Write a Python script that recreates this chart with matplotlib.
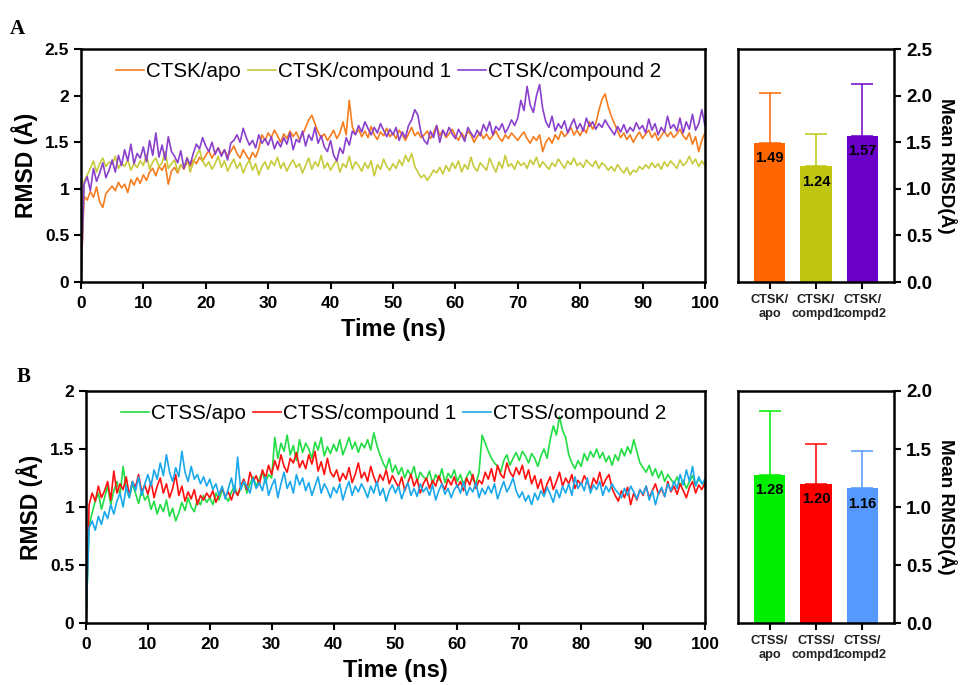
import numpy as np
import matplotlib.pyplot as plt

plt.rcParams['font.family'] = ['Liberation Sans', 'DejaVu Sans']

# RMSD traces, sampled every 0.5 ns from 0 to 100 ns
time_ns = np.arange(0, 100.5, 0.5)

ctsk_apo = [
    0.00, 0.92, 0.88, 0.97, 0.91, 1.02, 0.86, 0.80, 0.95, 0.99,
    1.03, 0.98, 1.07, 1.01, 1.05, 0.96, 1.10, 1.04, 1.12, 1.06,
    1.15, 1.09, 1.18, 1.22, 1.14, 1.24, 1.20, 1.27, 1.05, 1.19,
    1.23, 1.17, 1.26, 1.21, 1.29, 1.24, 1.31, 1.27, 1.34, 1.30,
    1.36, 1.41, 1.33, 1.39, 1.44, 1.37, 1.42, 1.35, 1.40, 1.46,
    1.38, 1.33, 1.42, 1.36, 1.31, 1.39, 1.34, 1.43, 1.58, 1.52,
    1.60, 1.55, 1.63, 1.57, 1.50, 1.59, 1.54, 1.62, 1.56, 1.61,
    1.53, 1.58, 1.66, 1.74, 1.79, 1.70, 1.61, 1.55, 1.59, 1.52,
    1.57, 1.63, 1.54, 1.60, 1.72, 1.58, 1.95, 1.66, 1.59, 1.64,
    1.56, 1.62, 1.55, 1.67, 1.58, 1.53, 1.61, 1.57, 1.65, 1.56,
    1.60, 1.54, 1.63, 1.58, 1.52, 1.59, 1.66, 1.57, 1.61, 1.55,
    1.58, 1.62, 1.54, 1.60, 1.68, 1.57, 1.63, 1.55, 1.59, 1.64,
    1.57, 1.52, 1.60, 1.55, 1.62, 1.58, 1.50, 1.56, 1.61, 1.54,
    1.59, 1.53, 1.57, 1.62, 1.55, 1.51, 1.58, 1.54, 1.60, 1.56,
    1.52, 1.57, 1.61, 1.54, 1.49, 1.56, 1.52, 1.58, 1.40, 1.50,
    1.55, 1.49, 1.58, 1.53, 1.62, 1.56, 1.60, 1.66, 1.58, 1.63,
    1.57, 1.65, 1.60, 1.72, 1.64, 1.70, 1.84, 1.96, 2.02, 1.88,
    1.78, 1.70, 1.62, 1.55, 1.60, 1.53, 1.58, 1.50, 1.56, 1.61,
    1.54, 1.59, 1.63, 1.55, 1.60, 1.52, 1.57, 1.62, 1.56, 1.61,
    1.55, 1.59, 1.64, 1.57, 1.53, 1.60, 1.48, 1.56, 1.40, 1.52,
    1.60]

ctsk_cpd1 = [
    0.00, 1.08, 1.15, 1.22, 1.30, 1.18, 1.27, 1.33, 1.24, 1.29,
    1.26, 1.35, 1.22, 1.28, 1.24, 1.31, 1.20, 1.27, 1.23, 1.30,
    1.25, 1.37, 1.21, 1.29, 1.33, 1.24, 1.28, 1.40, 1.22, 1.27,
    1.31, 1.19, 1.26, 1.22, 1.34, 1.18, 1.28, 1.36, 1.42, 1.30,
    1.24, 1.29, 1.21, 1.27, 1.35, 1.23, 1.30, 1.19, 1.26, 1.32,
    1.22, 1.28, 1.17, 1.25, 1.31, 1.20, 1.27, 1.15, 1.24, 1.29,
    1.21, 1.30, 1.25, 1.34, 1.22, 1.28, 1.19, 1.26, 1.31, 1.23,
    1.27, 1.17, 1.25, 1.33, 1.21, 1.29, 1.24, 1.36, 1.22, 1.28,
    1.20, 1.26, 1.31, 1.18, 1.27, 1.23, 1.35, 1.21, 1.29, 1.25,
    1.19, 1.28, 1.22, 1.30, 1.14, 1.26, 1.21, 1.32, 1.24, 1.20,
    1.27, 1.22, 1.31, 1.25, 1.36, 1.29, 1.38, 1.24, 1.18, 1.12,
    1.15, 1.09, 1.14, 1.20, 1.17, 1.23, 1.16, 1.25, 1.19, 1.28,
    1.22, 1.30, 1.18, 1.26, 1.21, 1.34, 1.23, 1.19, 1.28, 1.24,
    1.20, 1.33, 1.25, 1.18, 1.29, 1.22, 1.36, 1.24, 1.27, 1.21,
    1.30, 1.25, 1.28, 1.22, 1.31, 1.26, 1.34, 1.23, 1.29, 1.25,
    1.21, 1.28, 1.24, 1.32, 1.27, 1.22, 1.30, 1.26, 1.33, 1.25,
    1.28, 1.23, 1.31, 1.27, 1.24, 1.30, 1.22, 1.28, 1.25, 1.20,
    1.24, 1.19, 1.26, 1.21, 1.17, 1.23, 1.15, 1.20, 1.18, 1.24,
    1.21, 1.26, 1.22, 1.28, 1.23, 1.27, 1.21, 1.29, 1.24, 1.30,
    1.26, 1.22, 1.31, 1.25, 1.28, 1.35, 1.27, 1.32, 1.24, 1.30,
    1.25]

ctsk_cpd2 = [
    0.00, 1.05, 1.13, 0.98, 1.22, 1.08, 1.17, 1.28, 1.12, 1.20,
    1.31, 1.18, 1.36, 1.25, 1.42, 1.30, 1.48, 1.27, 1.38, 1.33,
    1.45, 1.29, 1.52, 1.36, 1.60, 1.34, 1.47, 1.31, 1.56, 1.40,
    1.35, 1.28, 1.41, 1.22, 1.33, 1.26, 1.38, 1.48, 1.43, 1.55,
    1.46, 1.40, 1.50, 1.37, 1.44, 1.35, 1.42, 1.31, 1.49, 1.52,
    1.58, 1.50, 1.65, 1.55, 1.47, 1.52, 1.44, 1.58, 1.49, 1.54,
    1.47, 1.56, 1.43, 1.51, 1.45, 1.55, 1.48, 1.60, 1.42, 1.53,
    1.50, 1.62, 1.46, 1.58, 1.52, 1.66, 1.49, 1.57, 1.45, 1.40,
    1.52, 1.36, 1.30, 1.44, 1.38, 1.55, 1.47, 1.62, 1.58, 1.68,
    1.61, 1.72, 1.65, 1.58, 1.66, 1.60, 1.70, 1.63, 1.56, 1.64,
    1.58, 1.66, 1.52, 1.61, 1.55, 1.68, 1.74, 1.85, 1.79, 1.60,
    1.52, 1.48, 1.62, 1.55, 1.68, 1.50, 1.63, 1.57, 1.66, 1.59,
    1.54, 1.64, 1.58, 1.51, 1.66, 1.60, 1.55, 1.63, 1.57, 1.69,
    1.62, 1.72, 1.58, 1.67, 1.63, 1.70, 1.60, 1.66, 1.74, 1.68,
    1.76, 1.95, 1.84, 2.10, 1.90, 1.82, 2.00, 2.12, 1.86, 1.72,
    1.66, 1.78, 1.62, 1.70, 1.65, 1.73, 1.60, 1.68, 1.75, 1.64,
    1.70, 1.62, 1.76, 1.67, 1.72, 1.64, 1.70, 1.66, 1.74, 1.68,
    1.63, 1.58, 1.67, 1.61, 1.69, 1.60, 1.66, 1.62, 1.71, 1.64,
    1.68, 1.60, 1.75, 1.63, 1.70, 1.58, 1.66, 1.61, 1.78, 1.65,
    1.69, 1.62, 1.76, 1.60, 1.72, 1.64, 1.80, 1.63, 1.70, 1.85,
    1.68]

ctss_apo = [
    0.00, 0.84, 0.95, 1.05, 1.12, 0.98, 1.08, 1.18, 1.02, 1.14,
    1.22, 1.10, 1.35, 1.16, 1.08, 1.20, 1.12, 1.03, 1.15, 1.06,
    1.10, 0.98, 1.05, 0.94, 1.02, 0.96, 1.06, 0.92, 0.99, 0.88,
    0.95, 1.04, 0.97, 1.08, 1.00, 0.96, 1.06, 1.02, 1.10, 1.04,
    1.08, 1.02, 1.12, 1.06, 1.15, 1.09, 1.05, 1.13, 1.18, 1.10,
    1.16, 1.22, 1.12, 1.20, 1.26, 1.18, 1.24, 1.30, 1.21, 1.28,
    1.25, 1.60, 1.42, 1.55, 1.48, 1.62, 1.45, 1.53, 1.40, 1.58,
    1.47, 1.55, 1.50, 1.42, 1.56, 1.49, 1.60, 1.44, 1.52, 1.46,
    1.54, 1.48, 1.58, 1.45, 1.52, 1.60, 1.50, 1.56, 1.47, 1.55,
    1.51, 1.58, 1.49, 1.64, 1.53, 1.45, 1.38, 1.33, 1.42, 1.30,
    1.36, 1.28, 1.34, 1.25, 1.32, 1.27, 1.35, 1.22, 1.30, 1.26,
    1.24, 1.31, 1.20, 1.28, 1.23, 1.33, 1.21, 1.29, 1.25, 1.32,
    1.22, 1.28, 1.19, 1.26, 1.31, 1.24, 1.20, 1.30, 1.62, 1.55,
    1.48, 1.42, 1.38, 1.35, 1.30, 1.40, 1.45, 1.36, 1.42, 1.47,
    1.40, 1.48, 1.44, 1.38, 1.46, 1.42, 1.35, 1.44, 1.50, 1.42,
    1.58, 1.70, 1.62, 1.78, 1.66, 1.60, 1.45, 1.38, 1.33, 1.40,
    1.35, 1.46, 1.40, 1.48, 1.43, 1.50, 1.42, 1.47, 1.39, 1.44,
    1.36, 1.45, 1.40, 1.50, 1.44, 1.52, 1.46, 1.58, 1.48, 1.38,
    1.34, 1.30, 1.36, 1.27, 1.33, 1.25, 1.31, 1.22, 1.28, 1.24,
    1.20, 1.26, 1.18, 1.23, 1.16, 1.22, 1.27, 1.19, 1.24, 1.21,
    1.18]

ctss_cpd1 = [
    0.00, 1.02, 1.12, 1.05, 1.18, 1.08, 1.14, 1.22, 1.06, 1.31,
    1.12, 1.20, 1.15, 1.26, 1.10, 1.22, 1.17, 1.28, 1.13, 1.19,
    1.11, 1.22, 1.08, 1.18, 1.25, 1.12, 1.20, 1.08, 1.16, 1.28,
    1.10, 1.18, 1.05, 1.13, 1.07, 1.15, 1.02, 1.10, 1.06, 1.12,
    1.08, 1.14, 1.04, 1.11, 1.16, 1.09, 1.13, 1.06, 1.15, 1.10,
    1.18, 1.24, 1.15, 1.30, 1.22, 1.27, 1.19, 1.32, 1.25, 1.36,
    1.28, 1.40, 1.32, 1.45, 1.35, 1.30, 1.42, 1.38, 1.47, 1.34,
    1.40, 1.33, 1.45, 1.37, 1.48, 1.31, 1.39, 1.28, 1.42, 1.30,
    1.26, 1.32, 1.22, 1.29, 1.24, 1.34, 1.21, 1.28, 1.38, 1.25,
    1.30, 1.22, 1.35, 1.26, 1.19, 1.28, 1.23, 1.32, 1.20, 1.27,
    1.22, 1.17, 1.26, 1.14, 1.21, 1.28, 1.18, 1.24, 1.12, 1.20,
    1.25, 1.16, 1.23, 1.18, 1.27, 1.20, 1.15, 1.24, 1.19, 1.26,
    1.17, 1.22, 1.14, 1.25, 1.19, 1.28, 1.16, 1.23, 1.20, 1.30,
    1.24, 1.33, 1.22, 1.36, 1.28, 1.25, 1.38, 1.30, 1.26, 1.34,
    1.28, 1.36, 1.24, 1.32, 1.20, 1.27, 1.16, 1.24, 1.12, 1.20,
    1.26, 1.15, 1.22, 1.30, 1.18, 1.25, 1.20, 1.28, 1.16, 1.23,
    1.19, 1.27, 1.22, 1.15, 1.25, 1.20, 1.30, 1.18, 1.24, 1.28,
    1.16, 1.10, 1.05, 1.14, 1.08, 1.17, 1.02, 1.12, 1.06, 1.15,
    1.10, 1.18, 1.08, 1.14, 1.20, 1.11, 1.16, 1.09, 1.22, 1.13,
    1.18, 1.11, 1.20, 1.14, 1.08, 1.17, 1.22, 1.12, 1.19, 1.15,
    1.21]

ctss_cpd2 = [
    0.00, 0.82, 0.88, 0.80, 0.92, 0.85, 0.96, 0.90, 1.02, 0.94,
    1.05, 1.12, 1.00, 1.18, 1.08, 1.22, 1.14, 1.26, 1.10, 1.20,
    1.28, 1.18, 1.32, 1.24, 1.38, 1.27, 1.45, 1.30, 1.22, 1.34,
    1.26, 1.48, 1.30, 1.22, 1.35, 1.24, 1.28, 1.20, 1.26, 1.18,
    1.24, 1.15, 1.20, 1.10, 1.18, 1.07, 1.16, 1.25, 1.12, 1.43,
    1.15, 1.22, 1.18, 1.12, 1.25, 1.16, 1.21, 1.14, 1.26, 1.10,
    1.18, 1.24, 1.08, 1.20, 1.30, 1.16, 1.22, 1.12, 1.28, 1.19,
    1.25, 1.14, 1.21, 1.10, 1.18, 1.26, 1.12, 1.20, 1.15, 1.08,
    1.17, 1.12, 1.20, 1.06, 1.15, 1.22, 1.10, 1.18, 1.13, 1.20,
    1.15, 1.08, 1.18, 1.12, 1.22, 1.10, 1.16, 1.05, 1.14, 1.19,
    1.12, 1.18, 1.07, 1.15, 1.21, 1.10, 1.16, 1.09, 1.20, 1.13,
    1.17, 1.10, 1.19, 1.06, 1.14, 1.20, 1.11, 1.16, 1.08, 1.15,
    1.19, 1.12, 1.22, 1.10, 1.17, 1.13, 1.21, 1.08, 1.16, 1.11,
    1.18, 1.12, 1.20, 1.07, 1.15, 1.22, 1.13, 1.18, 1.25, 1.14,
    1.08, 1.13, 1.05, 1.10, 1.02, 1.12, 1.06, 1.14, 1.09, 1.17,
    1.11, 1.04, 1.15, 1.08, 1.18, 1.12, 1.20, 1.10, 1.26, 1.16,
    1.21, 1.14, 1.25, 1.12, 1.19, 1.15, 1.22, 1.10, 1.18, 1.13,
    1.20, 1.15, 1.12, 1.08, 1.16, 1.10, 1.18, 1.13, 1.07, 1.15,
    1.11, 1.18, 1.06, 1.14, 1.02, 1.12, 1.17, 1.09, 1.20, 1.14,
    1.22, 1.16, 1.28, 1.19, 1.32, 1.22, 1.35, 1.18, 1.26, 1.20,
    1.24]

# mean RMSD and upper error (SD) for the bar panels
ctsk_labels = ['CTSK/\napo', 'CTSK/\ncompd1', 'CTSK/\ncompd2']
ctsk_mean = [1.49, 1.24, 1.57]
ctsk_err = [0.54, 0.35, 0.56]
ctss_labels = ['CTSS/\napo', 'CTSS/\ncompd1', 'CTSS/\ncompd2']
ctss_mean = [1.28, 1.20, 1.16]
ctss_err = [0.55, 0.34, 0.32]

ctsk_names = ['CTSK/apo', 'CTSK/compound 1', 'CTSK/compound 2']
ctss_names = ['CTSS/apo', 'CTSS/compound 1', 'CTSS/compound 2']
ctsk_line_colors = ['#F57D1F', '#C6CB3C', '#8A40CC']
ctsk_bar_colors = ['#FF6600', '#BEC612', '#6A00C8']
ctss_line_colors = ['#22DD44', '#FF1010', '#1AA8EC']
ctss_bar_colors = ['#00EE00', '#FF0000', '#5599FF']

fig = plt.figure(figsize=(9.65, 6.85), dpi=100)


def style_spines(ax):
    for s in ax.spines.values():
        s.set_linewidth(1.8)
        s.set_color('black')


def line_panel(rect, series, names, colors, ymax):
    ax = fig.add_axes(rect)
    for y, n, c in zip(series, names, colors):
        ax.plot(time_ns, y, color=c, lw=1.2, label=n)
    ax.set_xlim(0, 100)
    ax.set_ylim(0, ymax)
    ax.set_xticks(range(0, 101, 10))
    ax.set_yticks(np.arange(0, ymax + 0.01, 0.5))
    ax.set_yticklabels([f'{v:g}' for v in np.arange(0, ymax + 0.01, 0.5)])
    ax.tick_params(direction='out', length=5, width=1.5, labelsize=12.5)
    ax.tick_params(axis='x', pad=5)
    for lab in ax.get_xticklabels() + ax.get_yticklabels():
        lab.set_fontweight('bold')
    ax.set_xlabel('Time (ns)', fontsize=17, fontweight='bold', labelpad=5)
    ax.set_ylabel('RMSD (Å)', fontsize=16.5, fontweight='bold', labelpad=5)
    ax.legend(loc='upper left', bbox_to_anchor=(0.035, 1.0), ncol=3,
              frameon=False, fontsize=14.8, handlelength=1.35,
              handletextpad=0.1, columnspacing=0.35, borderaxespad=0.25)
    style_spines(ax)
    return ax


def bar_panel(rect, labels, means, errs, bar_colors, ymax):
    ax = fig.add_axes(rect)
    x = np.arange(len(means))
    for i in range(len(means)):
        ax.bar(x[i], means[i], width=0.67, color=bar_colors[i])
        ax.errorbar(x[i], means[i], yerr=[[0], [errs[i]]], color=bar_colors[i],
                    capsize=8, elinewidth=1.1, capthick=1.1, fmt='none')
        ax.text(x[i], means[i] - 0.035 * ymax, f'{means[i]:.2f}', ha='center',
                va='top', fontsize=10.5, fontweight='bold')
    ax.set_xlim(-0.68, 2.68)
    ax.set_ylim(0, ymax)
    ax.set_xticks(x)
    ax.set_xticklabels(labels, fontsize=9.2, fontweight='bold', color='#222222',
                       linespacing=1.25)
    ax.set_yticks(np.arange(0, ymax + 0.01, 0.5))
    ax.set_yticklabels([f'{v:.1f}' for v in np.arange(0, ymax + 0.01, 0.5)],
                       fontsize=13.5, fontweight='bold')
    ax.yaxis.tick_right()
    ax.yaxis.set_label_position('right')
    ax.tick_params(direction='out', length=5, width=1.5)
    ax.set_ylabel('Mean RMSD(Å)', fontsize=13.7, fontweight='bold',
                  rotation=270, labelpad=18)
    style_spines(ax)
    return ax


line_panel([0.0839, 0.5883, 0.6466, 0.340], [ctsk_apo, ctsk_cpd1, ctsk_cpd2],
           ctsk_names, ctsk_line_colors, 2.5)
bar_panel([0.7648, 0.5883, 0.1617, 0.340], ctsk_labels, ctsk_mean, ctsk_err,
          ctsk_bar_colors, 2.5)
line_panel([0.0891, 0.0905, 0.6414, 0.3387], [ctss_apo, ctss_cpd1, ctss_cpd2],
           ctss_names, ctss_line_colors, 2.0)
bar_panel([0.7648, 0.0905, 0.1617, 0.3387], ctss_labels, ctss_mean, ctss_err,
          ctss_bar_colors, 2.0)

fig.text(0.010, 0.950, 'A', fontsize=15, fontweight='bold',
         family=['Liberation Serif', 'DejaVu Serif'])
fig.text(0.017, 0.443, 'B', fontsize=15, fontweight='bold',
         family=['Liberation Serif', 'DejaVu Serif'])

fig.savefig('out.png', dpi=100)
